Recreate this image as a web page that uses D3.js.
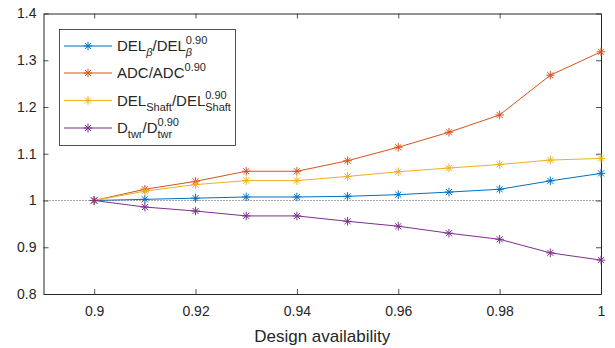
<!DOCTYPE html>
<html>
<head>
<meta charset="utf-8">
<script src="https://cdn.jsdelivr.net/npm/d3@7"></script>
<style>
  body { margin: 0; background: #fff; }
  svg text { font-family: "Liberation Sans", Arial, Helvetica, sans-serif; fill: #262626; }
</style>
</head>
<body>
<div id="wrapper"></div>
<script>
// data
const availability = [0.90, 0.91, 0.92, 0.93, 0.94, 0.95, 0.96, 0.97, 0.98, 0.99, 1.00]
const delBeta  = [1, 1.0025, 1.005, 1.0075, 1.0075, 1.009, 1.0125, 1.018, 1.024, 1.042, 1.058]
const adc      = [1, 1.024, 1.041, 1.0625, 1.0625, 1.085, 1.114, 1.146, 1.183, 1.268, 1.318]
const delShaft = [1, 1.020, 1.034, 1.0425, 1.0425, 1.0515, 1.0615, 1.0695, 1.077, 1.0865, 1.090]
const dTwr     = [1, 0.986, 0.9775, 0.967, 0.967, 0.9555, 0.945, 0.930, 0.917, 0.888, 0.8725]

const xTicks = [0.9, 0.92, 0.94, 0.96, 0.98, 1]
const xTickLabels = ["0.9", "0.92", "0.94", "0.96", "0.98", "1"]
const yTicks = [0.8, 0.9, 1, 1.1, 1.2, 1.3, 1.4]
const yTickLabels = ["0.8", "0.9", "1", "1.1", "1.2", "1.3", "1.4"]

const seriesValues = [delBeta, adc, delShaft, dTwr]
const colors = ["#0072BD", "#D95319", "#EDB120", "#7E2F8E"]
// legend labels: [text, kind] where kind: n normal, sub, sup, both = sub + sup stacked
const legendLabels = [
    [["DEL", "n"], ["β", "sub"], ["/DEL", "n"], ["β|0.90", "both"]],
    [["ADC/ADC", "n"], ["0.90", "sup"]],
    [["DEL", "n"], ["Shaft", "sub"], ["/DEL", "n"], ["Shaft|0.90", "both"]],
    [["D", "n"], ["twr", "sub"], ["/D", "n"], ["twr|0.90", "both"]],
]

let dimensions = {
    width: 615,
    height: 348,
    margin: { top: 13.5, right: 14, bottom: 54, left: 43.5 },
}
dimensions.boundedWidth = dimensions.width - dimensions.margin.left - dimensions.margin.right
dimensions.boundedHeight = dimensions.height - dimensions.margin.top - dimensions.margin.bottom

const wrapper = d3.select("#wrapper")
    .append("svg")
    .attr("width", dimensions.width)
    .attr("height", dimensions.height)

const bounds = wrapper.append("g")
    .attr("transform", `translate(${dimensions.margin.left},${dimensions.margin.top})`)

const xScale = d3.scaleLinear()
    .domain([0.89, 1.0])
    .range([0, dimensions.boundedWidth])
const yScale = d3.scaleLinear()
    .domain([0.8, 1.4])
    .range([dimensions.boundedHeight, 0])

// reference line at 1
bounds.append("line")
    .attr("x1", 0)
    .attr("x2", dimensions.boundedWidth)
    .attr("y1", yScale(1))
    .attr("y2", yScale(1))
    .attr("stroke", "#555")
    .attr("stroke-width", 1)
    .attr("stroke-dasharray", "1,2")

// axes, ticks pointing inwards on all four sides
const axisColor = "#262626"
const fontSize = 14

const xAxis = bounds.append("g")
    .attr("transform", `translate(0,${dimensions.boundedHeight})`)
    .call(d3.axisBottom(xScale).tickValues(xTicks)
        .tickFormat((d, i) => xTickLabels[i])
        .tickSizeInner(-5).tickSizeOuter(0).tickPadding(12))
const xAxisTop = bounds.append("g")
    .call(d3.axisTop(xScale).tickValues(xTicks).tickFormat("")
        .tickSizeInner(-5).tickSizeOuter(0))
const yAxis = bounds.append("g")
    .call(d3.axisLeft(yScale).tickValues(yTicks)
        .tickFormat((d, i) => yTickLabels[i])
        .tickSizeInner(-5).tickSizeOuter(0).tickPadding(7))
const yAxisRight = bounds.append("g")
    .attr("transform", `translate(${dimensions.boundedWidth},0)`)
    .call(d3.axisRight(yScale).tickValues(yTicks).tickFormat("")
        .tickSizeInner(-5).tickSizeOuter(0))

bounds.selectAll(".domain").attr("stroke", axisColor).attr("stroke-width", 1)
bounds.selectAll(".tick line").attr("stroke", axisColor).attr("stroke-width", 0.8)
bounds.selectAll(".tick text")
    .attr("font-size", fontSize)
    .attr("font-family", null)
    .style("fill", axisColor)

bounds.append("text")
    .attr("x", dimensions.boundedWidth / 2)
    .attr("y", dimensions.boundedHeight + 48)
    .attr("text-anchor", "middle")
    .attr("font-size", 17)
    .text("Design availability")

// asterisk marker
const markerR = 4.3
function drawAsterisk(sel, cx, cy, color) {
    const g = sel.append("g")
        .attr("transform", `translate(${cx},${cy})`)
        .attr("stroke", color)
        .attr("stroke-width", 1)
    const d = markerR * Math.SQRT1_2
    g.append("line").attr("x1", -markerR).attr("x2", markerR)
    g.append("line").attr("y1", -markerR).attr("y2", markerR)
    g.append("line").attr("x1", -d).attr("y1", -d).attr("x2", d).attr("y2", d)
    g.append("line").attr("x1", -d).attr("y1", d).attr("x2", d).attr("y2", -d)
}

const lineGenerator = d3.line()
    .x((d, i) => xScale(availability[i]))
    .y(d => yScale(d))

seriesValues.forEach((values, s) => {
    bounds.append("path")
        .attr("d", lineGenerator(values))
        .attr("fill", "none")
        .attr("stroke", colors[s])
        .attr("stroke-width", 1)
    values.forEach((v, i) => {
        drawAsterisk(bounds, xScale(availability[i]), yScale(v), colors[s])
    })
})

// legend
const legend = wrapper.append("g")
legend.append("rect")
    .attr("x", 59.5)
    .attr("y", 29.5)
    .attr("width", 176)
    .attr("height", 116)
    .attr("fill", "#fff")
    .attr("stroke", axisColor)
    .attr("stroke-width", 0.8)

const rowY = [46, 73, 100.5, 128]
const legendSize = 15
const smallSize = 11
legendLabels.forEach((parts, s) => {
    const y = rowY[s]
    legend.append("line")
        .attr("x1", 64).attr("x2", 112)
        .attr("y1", y).attr("y2", y)
        .attr("stroke", colors[s])
        .attr("stroke-width", 1)
    drawAsterisk(legend, 88, y, colors[s])

    const text = legend.append("text")
        .attr("x", 117)
        .attr("y", y + 5)
        .attr("font-size", legendSize)
    let shift = 0
    parts.forEach(([t, kind]) => {
        if (kind === "n") {
            text.append("tspan").attr("dy", -shift).text(t)
            shift = 0
        } else if (kind === "sub") {
            text.append("tspan").attr("dy", 5 - shift).attr("font-size", smallSize)
                .style("font-style", t === "β" ? "italic" : null).text(t)
            shift = 5
        } else if (kind === "sup") {
            text.append("tspan").attr("dy", -7 - shift).attr("font-size", smallSize).text(t)
            shift = -7
        } else {
            const [subT, supT] = t.split("|")
            const sub = text.append("tspan").attr("dy", 5 - shift).attr("font-size", smallSize)
                .style("font-style", subT === "β" ? "italic" : null).text(subT)
            const w = sub.node().getComputedTextLength()
            text.append("tspan").attr("dx", -w).attr("dy", -12).attr("font-size", smallSize).text(supT)
            shift = -7
        }
    })
})
</script>
</body>
</html>
